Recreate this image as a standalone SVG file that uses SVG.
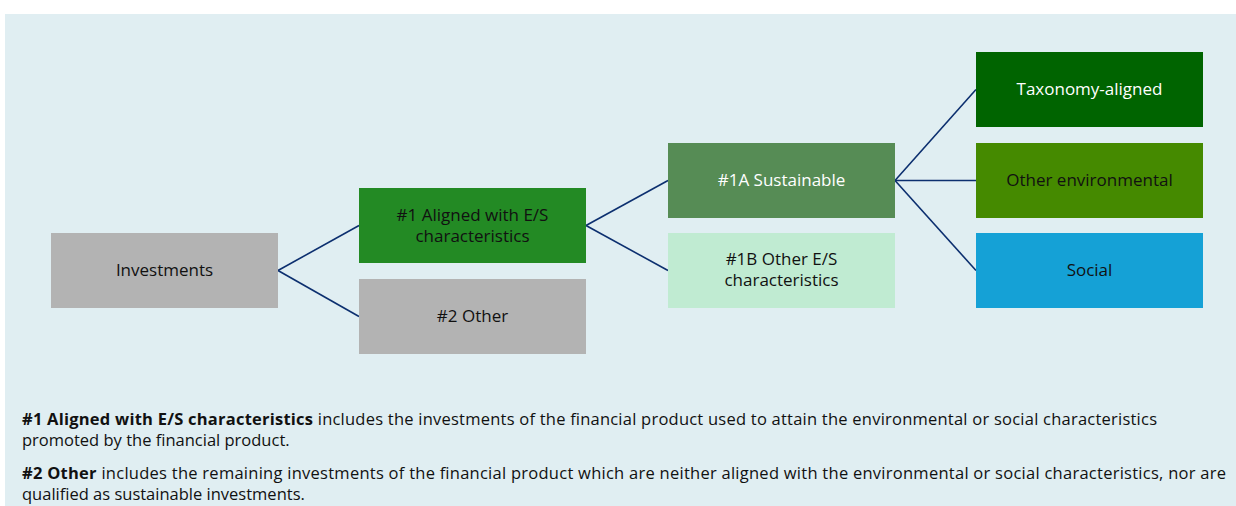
<svg xmlns="http://www.w3.org/2000/svg" width="1236" height="506" viewBox="0 0 1236 506">
<style>
.box text{font-family:"Open Sans","Liberation Sans",sans-serif;font-size:17px;text-anchor:middle;fill:#111}
.box text.w{fill:#fff}
.conn line{stroke:#0c2f6f;stroke-width:1.6;fill:none}
.note{font-family:"Open Sans","Liberation Sans",sans-serif;font-size:16.5px;fill:#111}
.note .b{font-weight:bold}
</style>
<rect x="5" y="14" width="1231" height="492" fill="#e0eef2"/>
<g class="conn" id="connectors">
<line x1="278" y1="270.5" x2="359" y2="225.5"/>
<line x1="278" y1="270.5" x2="359" y2="316.5"/>
<line x1="586" y1="225.5" x2="668" y2="180.5"/>
<line x1="586" y1="225.5" x2="668" y2="270.5"/>
<line x1="895" y1="180.5" x2="976" y2="89.5"/>
<line x1="895" y1="180.5" x2="976" y2="180.5"/>
<line x1="895" y1="180.5" x2="976" y2="270.5"/>
</g>
<g class="box" id="investments"><rect x="51" y="233" width="227" height="75" fill="#b3b3b3"/><text x="164.5" y="276">Investments</text></g>
<g class="box" id="aligned"><rect x="359" y="188" width="227" height="75" fill="#238a24"/><text x="472.5" y="221">#1 Aligned with E/S</text><text x="472.5" y="242">characteristics</text></g>
<g class="box" id="other2"><rect x="359" y="279" width="227" height="75" fill="#b3b3b3"/><text x="472.5" y="322">#2 Other</text></g>
<g class="box" id="sustainable"><rect x="668" y="143" width="227" height="75" fill="#568c55"/><text class="w" x="781.5" y="186">#1A Sustainable</text></g>
<g class="box" id="other1b"><rect x="668" y="233" width="227" height="75" fill="#c0ebd2"/><text x="781.5" y="265">#1B Other E/S</text><text x="781.5" y="286">characteristics</text></g>
<g class="box" id="taxonomy"><rect x="976" y="52" width="227" height="75" fill="#006400"/><text class="w" x="1089.5" y="95">Taxonomy-aligned</text></g>
<g class="box" id="otherenv"><rect x="976" y="143" width="227" height="75" fill="#458a00"/><text x="1089.5" y="186">Other environmental</text></g>
<g class="box" id="social"><rect x="976" y="233" width="227" height="75" fill="#15a1d6"/><text x="1089.5" y="276">Social</text></g>
<g id="notes" class="note">
<text x="22" y="425" textLength="1135" lengthAdjust="spacing"><tspan class="b">#1 Aligned with E/S characteristics</tspan> includes the investments of the financial product used to attain the environmental or social characteristics</text>
<text x="22" y="446">promoted by the financial product.</text>
<text x="22" y="479" textLength="1204" lengthAdjust="spacing"><tspan class="b">#2 Other</tspan> includes the remaining investments of the financial product which are neither aligned with the environmental or social characteristics, nor are</text>
<text x="22" y="500">qualified as sustainable investments.</text>
</g>
</svg>
